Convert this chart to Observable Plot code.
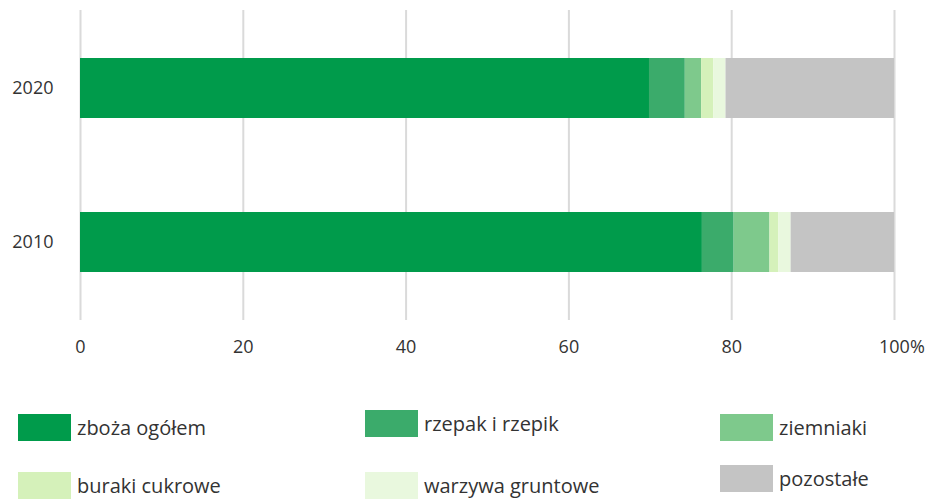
<!DOCTYPE html>
<html>
<head>
<meta charset="utf-8">
<script src="https://cdn.jsdelivr.net/npm/d3@7"></script>
<script src="https://cdn.jsdelivr.net/npm/@observablehq/plot@0.6"></script>
<style>
  body { margin: 0; background: #fff; font-family: "Open Sans", sans-serif; }
  #wrap { position: relative; width: 935px; height: 499px; overflow: hidden; }
  #legend { position: absolute; left: 0; top: 0; width: 935px; height: 499px; pointer-events: none; }
  .item { position: absolute; display: flex; align-items: center; font-size: 20px; color: #333; }
  .sw { width: 53px; height: 27px; margin-right: 6px; }
</style>
</head>
<body>
<div id="wrap"><div id="chart"></div><div id="legend"></div></div>
<script>
const years = ["2020", "2010"];
const categories = ["zboża ogółem", "rzepak i rzepik", "ziemniaki", "buraki cukrowe", "warzywa gruntowe", "pozostałe"];
const colors = ["#009b4b", "#3bab6b", "#7ec98c", "#d5f1ba", "#e9f8de", "#c4c4c4"];
const values2020 = [69.9, 4.4, 2.0, 1.5, 1.5, 20.7];
const values2010 = [76.4, 3.9, 4.4, 1.1, 1.5, 12.7];
const xTicks = [0, 20, 40, 60, 80];
const gridTicks = [0, 20, 40, 60, 80, 100];
const lastTick = [{x: 100, label: "100%"}];

const data = [];
categories.forEach((c, i) => {
  data.push({year: "2020", category: c, value: values2020[i]});
  data.push({year: "2010", category: c, value: values2010[i]});
});

const chart = Plot.plot({
  width: 935,
  height: 375,
  marginLeft: 80,
  marginRight: 41,
  marginTop: 10,
  marginBottom: 55,
  style: {fontFamily: "Open Sans, sans-serif", fontSize: "18px", color: "#333", background: "transparent"},
  x: {domain: [0, 100]},
  y: {domain: years, paddingInner: 0.61, paddingOuter: 0.31},
  color: {domain: categories, range: colors},
  marks: [
    Plot.ruleX(gridTicks, {stroke: "#dadada", strokeWidth: 2}),
    Plot.barX(data, {x: "value", y: "year", fill: "category", order: categories}),
    Plot.axisX({ticks: xTicks, tickSize: 0, tickPadding: 20, fontSize: 18, label: null}),
    Plot.text(lastTick, {x: "x", text: "label", frameAnchor: "bottom", textAnchor: "start", lineAnchor: "top", dx: -15.5, dy: 20, fontSize: 18, fill: "#333"}),
    Plot.axisY({tickSize: 0, tickPadding: 27, fontSize: 18, label: null})
  ]
});
document.getElementById("chart").appendChild(chart);

const legendPos = [
  {left: 18, top: 414}, {left: 365, top: 410}, {left: 720, top: 414},
  {left: 18, top: 472}, {left: 365, top: 472}, {left: 720, top: 465}
];
const legend = document.getElementById("legend");
categories.forEach((c, i) => {
  const it = document.createElement("div");
  it.className = "item";
  it.style.left = legendPos[i].left + "px";
  it.style.top = legendPos[i].top + "px";
  const sw = document.createElement("div");
  sw.className = "sw";
  sw.style.background = colors[i];
  const t = document.createElement("span");
  t.textContent = c;
  it.appendChild(sw);
  it.appendChild(t);
  legend.appendChild(it);
});
</script>
</body>
</html>
